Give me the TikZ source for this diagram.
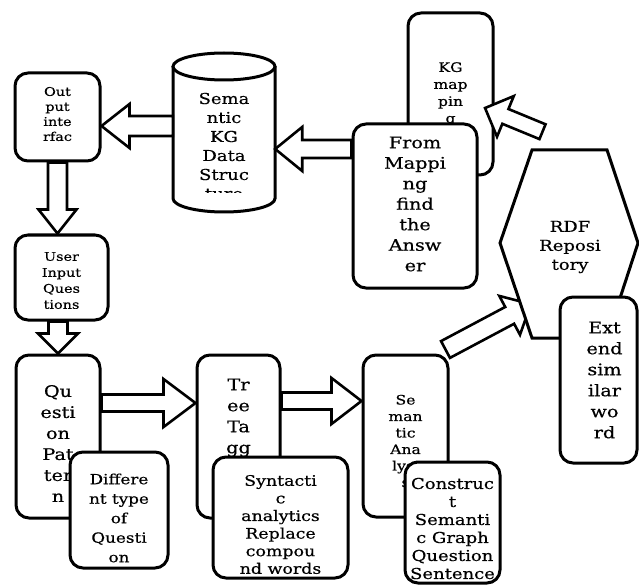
\documentclass[tikz,border=0pt]{standalone}
\usepackage{fontspec}
\setmainfont{DejaVu Serif}[FakeStretch=1.2, FakeBold=0.5]
\usetikzlibrary{calc}

\tikzset{
  box/.style={draw, line width=3pt, rounded corners=13pt, fill=white, inner sep=0pt},
  lbl/.style={align=center, inner sep=0pt},
  barrow/.style={draw, line width=2.6pt, fill=white, line join=miter},
  solid shape/.style={draw, line width=3pt, fill=white, line join=miter},
}
\newcommand\fs[2]{\fontsize{#1}{#2}\selectfont}

% hollow block arrow from #1 to #2: half shaft width #3, half head width #4, head length #5
\newcommand\blockarrow[5]{%
  \path (#1); \pgfgetlastxy{\baX}{\baY}%
  \path (#2); \pgfgetlastxy{\bbX}{\bbY}%
  \pgfmathsetmacro\baAng{atan2((\bbY)-(\baY),(\bbX)-(\baX))}%
  \pgfmathsetmacro\baLen{veclen((\bbX)-(\baX),(\bbY)-(\baY))}%
  \draw[barrow, shift={(\baX,\baY)}, rotate=\baAng]
    (0,-#3) -- (\baLen-#5,-#3) -- (\baLen-#5,-#4) -- (\baLen,0)
    -- (\baLen-#5,#4) -- (\baLen-#5,#3) -- (0,#3) -- cycle;
}

\begin{document}
\begin{tikzpicture}[x=1pt,y=1pt]
\useasboundingbox (0,0) rectangle (639,-585);
\fill[white] (0,0) rectangle (639,-585);

% upper right: mapping and answer
\node[box, minimum width=85pt, minimum height=162pt,
  label={[lbl, font=\fs{13}{17}]center:{KG\\map\\pin\\g}}] (kg) at (450.5,-94) {};
\node[box, minimum width=124pt, minimum height=164pt,
  label={[lbl, font=\fs{16}{20.5}, yshift=2pt]center:{From\\Mappi\\ng\\find\\the\\Answ\\er}}] (fm) at (415,-206) {};

\coordinate (rdfout) at (542.5,-131.7);
\coordinate (kgin) at (485,-108);
\blockarrow{rdfout}{kgin}{8}{22}{22}

% knowledge graph store
\draw[solid shape] (173,-66.5) -- (173,-198.5)
  arc[start angle=180, end angle=360, x radius=51pt, y radius=13.5pt] -- (275,-66.5);
\draw[solid shape] (224,-66.5) ellipse[x radius=51pt, y radius=13.5pt];
\begin{scope}
  \clip (173,-80) rectangle (275,-193);
  \node[lbl, minimum width=102pt, minimum height=132pt, font=\fs{15}{19}] (cyl) at (224,-146) {Sema\\ntic\\KG\\Data\\Struc\\ture};
\end{scope}

% output side
\node[box, minimum width=85pt, minimum height=88pt,
  label={[lbl, font=\fs{12}{15}, yshift=3pt]center:{Out\\put\\inte\\rfac}}] (out) at (57.5,-117) {};
\blockarrow{cyl.west |- 0,-126}{out.east |- 0,-126}{10}{22}{28}
\blockarrow{fm.west |- 0,-149}{cyl.east |- 0,-149}{9}{22}{27}

\node[box, minimum width=93pt, minimum height=85pt,
  label={[lbl, font=\fs{12}{16}, yshift=-3pt]center:{User\\Input\\Ques\\tions}}] (user) at (61.5,-277.5) {};
\blockarrow{out.south}{out.south |- user.north}{9.5}{19}{24}

% question processing chain
\node[box, minimum width=84pt, minimum height=163pt,
  label={[lbl, font=\fs{16}{21}, yshift=-7pt]center:{Qu\\esti\\on\\Pat\\ter\\n}}] (qp) at (58,-436.5) {};
\node[box, minimum width=98pt, minimum height=116pt,
  label={[lbl, font=\fs{14}{19.5}, yshift=-8pt]center:{Differe\\nt type\\of\\Questi\\on}}] (diff) at (119,-510) {};
\blockarrow{qp.north |- user.south}{qp.north}{9.5}{20}{20}

\node[box, minimum width=83pt, minimum height=163pt,
  label={[lbl, font=\fs{16}{21}, yshift=10pt]center:{Tr\\ee\\Ta\\gg\\er}}] (tt) at (238.5,-436.5) {};
\node[box, minimum width=135pt, minimum height=121pt,
  label={[lbl, font=\fs{14.5}{17.6}, yshift=-7pt]center:{Syntacti\\c\\analytics\\Replace\\compou\\nd words}}] (syn) at (280.5,-517.5) {};

\node[box, minimum width=85pt, minimum height=162pt,
  label={[lbl, font=\fs{13}{16.5}, yshift=-5pt]center:{Se\\man\\tic\\Ana\\lysi\\s}}] (sa) at (405.5,-436) {};
\node[box, minimum width=95pt, minimum height=121pt,
  label={[lbl, font=\fs{15}{18}, yshift=-6pt]center:{Construc\\t\\Semanti\\c Graph\\Question\\Sentence}}] (con) at (452.5,-522.5) {};

\blockarrow{qp.east |- 0,-403}{tt.west |- 0,-403}{8.5}{24}{32}
\blockarrow{tt.east |- 0,-401}{sa.west |- 0,-401}{8.5}{23}{30}

% repository
\coordinate (saout) at (445.5,-349.5);
\coordinate (rdfin) at (531,-304);
\blockarrow{saout}{rdfin}{9.5}{22}{24}

\draw[solid shape] (532,-150) -- (607,-150) -- (638,-243) -- (607,-338) -- (532,-338) -- (500,-243) -- cycle;
\node[lbl, font=\fs{15}{19}] (rdf) at (570,-247) {RDF\\Reposi\\tory};

\node[box, minimum width=77pt, minimum height=166pt,
  label={[lbl, font=\fs{16}{21}, xshift=6pt]center:{Ext\\end\\sim\\ilar\\wo\\rd}}] (ext) at (598.5,-380) {};
\end{tikzpicture}
\end{document}
